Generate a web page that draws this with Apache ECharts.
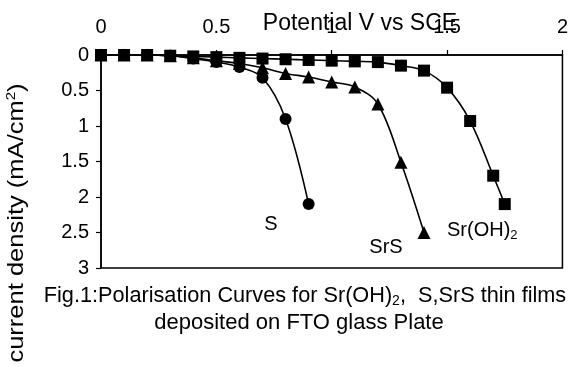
<!DOCTYPE html>
<html>
<head>
<meta charset="utf-8">
<script src="https://cdn.jsdelivr.net/npm/echarts@6/dist/echarts.min.js"></script>
<style>
html,body{margin:0;padding:0;background:#fff;}
#chart{width:571px;height:367px;}
</style>
</head>
<body>
<div id="chart"></div>
<script>
// Data
var potentialS = [0, 0.1, 0.2, 0.3, 0.4, 0.5, 0.6, 0.7, 0.8, 0.9];
var currentS   = [0, 0, 0, 0.01, 0.05, 0.1, 0.17, 0.32, 0.9, 2.1];

var potentialSrS = [0, 0.1, 0.2, 0.3, 0.4, 0.5, 0.6, 0.7, 0.8, 0.9, 1.0, 1.1, 1.2, 1.3, 1.4];
var currentSrS   = [0, 0, 0, 0.01, 0.04, 0.08, 0.12, 0.18, 0.26, 0.31, 0.38, 0.45, 0.69, 1.51, 2.5];

var potentialSrOH = [0, 0.1, 0.2, 0.3, 0.4, 0.5, 0.6, 0.7, 0.8, 0.9, 1.0, 1.1, 1.2, 1.3, 1.4, 1.5, 1.6, 1.7, 1.75];
var currentSrOH   = [0, 0, 0, 0.01, 0.02, 0.03, 0.04, 0.05, 0.06, 0.07, 0.08, 0.09, 0.1, 0.15, 0.22, 0.46, 0.93, 1.7, 2.1];

var xTicks = [0, 0.5, 1, 1.5, 2];
var yTicks = [0, 0.5, 1, 1.5, 2, 2.5, 3];

var xTitle = 'Potential V vs SCE';
var seriesNames = ['S', 'SrS', 'Sr(OH)2'];

function pairs(xs, ys) {
  return xs.map(function (x, i) { return [x, ys[i]]; });
}

var FONT = 'Liberation Sans, Arial, sans-serif';
var chart = echarts.init(document.getElementById('chart'), null, {renderer: 'canvas'});

function lineSeries(name, xs, ys, symbol, size) {
  return {
    name: name,
    type: 'line',
    data: pairs(xs, ys),
    smooth: 0.35,
    symbol: symbol,
    symbolSize: size,
    showSymbol: true,
    lineStyle: {color: '#000', width: 1.6},
    itemStyle: {color: '#000', borderWidth: 0},
    animation: false,
    z: 3
  };
}

var option = {
  backgroundColor: '#fff',
  animation: false,
  grid: {
    left: 101, right: 7, top: 55, bottom: 99,
    show: true, borderColor: '#000', borderWidth: 1.5, backgroundColor: 'transparent'
  },
  xAxis: {
    type: 'value',
    position: 'top',
    min: xTicks[0], max: xTicks[xTicks.length - 1], interval: 0.5,
    axisLine: {show: true, lineStyle: {color: '#000', width: 1.5}},
    axisTick: {show: true, inside: false, length: 5, lineStyle: {color: '#000', width: 1.2}},
    axisLabel: {color: '#000', fontSize: 20, fontFamily: FONT, margin: 18},
    splitLine: {show: false}
  },
  yAxis: {
    type: 'value',
    inverse: true,
    min: yTicks[0], max: yTicks[yTicks.length - 1], interval: 0.5,
    axisLine: {show: true, onZero: false, lineStyle: {color: '#000', width: 1.5}},
    axisTick: {show: true, inside: false, length: 5, lineStyle: {color: '#000', width: 1.2}},
    axisLabel: {color: '#000', fontSize: 20, fontFamily: FONT, margin: 12},
    splitLine: {show: false}
  },
  series: [
    lineSeries(seriesNames[0], potentialS, currentS, 'circle', 12),
    lineSeries(seriesNames[1], potentialSrS, currentSrS, 'triangle', 13),
    lineSeries(seriesNames[2], potentialSrOH, currentSrOH, 'rect', 12)
  ],
  graphic: [
    {
      type: 'text', z: 10, x: 360, y: 24,
      style: {x: 0, y: 0, text: xTitle, fill: '#000', font: '23px ' + FONT, align: 'center', verticalAlign: 'middle'}
    },
    {
      type: 'text', z: 10,
      x: 17, y: 223, rotation: Math.PI / 2, scaleX: 1.16,
      style: {
        x: 0, y: 0, align: 'center', verticalAlign: 'middle',
        text: 'current density (mA/cm{sup|2})',
        fill: '#000', font: '22px ' + FONT,
        rich: {sup: {fontSize: 13, fontFamily: FONT, verticalAlign: 'top', padding: [0, 0, 12, 0], fill: '#000'}}
      }
    },
    {
      type: 'text', z: 10,
      style: {x: 271, y: 224, text: 'S', fill: '#000', font: '20px ' + FONT, align: 'center', verticalAlign: 'middle'}
    },
    {
      type: 'text', z: 10,
      style: {x: 386, y: 247, text: 'SrS', fill: '#000', font: '20px ' + FONT, align: 'center', verticalAlign: 'middle'}
    },
    {
      type: 'text', z: 10,
      style: {
        x: 447, y: 230, text: 'Sr(OH){sub|2}', fill: '#000', font: '20px ' + FONT, align: 'left', verticalAlign: 'middle',
        rich: {sub: {fontSize: 13, fontFamily: FONT, padding: [10, 0, 0, 0]}}
      }
    },
    {
      type: 'text', z: 10,
      style: {
        x: 305, y: 296, align: 'center', verticalAlign: 'middle',
        text: 'Fig.1:Polarisation Curves for Sr(OH){sub|2},  S,SrS thin films',
        fill: '#000', font: '21.7px ' + FONT,
        rich: {sub: {fontSize: 14, fontFamily: FONT, padding: [10, 0, 0, 0]}}
      }
    },
    {
      type: 'text', z: 10,
      style: {
        x: 299, y: 323, align: 'center', verticalAlign: 'middle',
        text: 'deposited on FTO glass Plate',
        fill: '#000', font: '22px ' + FONT
      }
    }
  ]
};
chart.setOption(option);
</script>
</body>
</html>
